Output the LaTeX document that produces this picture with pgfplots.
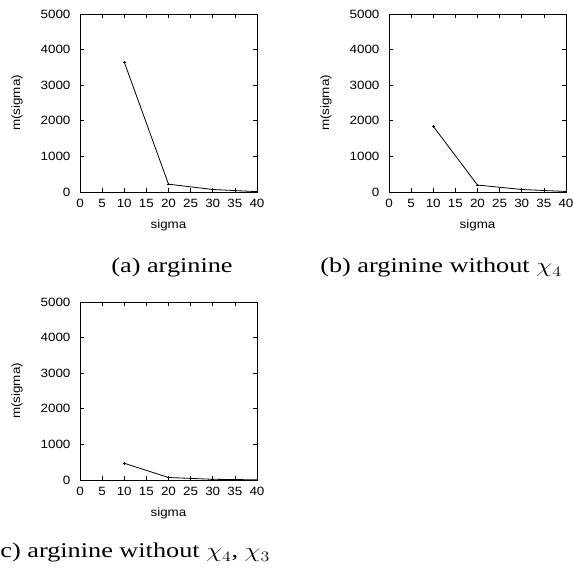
\documentclass[border=0pt]{standalone}
\usepackage{fontspec}
\setmainfont{Liberation Serif}
\setsansfont{Liberation Sans}[FakeStretch=1.12]
\usepackage{graphicx}
\usepackage{pgfplots}
\pgfplotsset{compat=1.18}

% gnuplot-like small panels
\pgfplotsset{
  gp/.style={
    scale only axis, width=177pt, height=178pt,
    xmin=0, xmax=40, ymin=0, ymax=5000,
    xtick={0,5,...,40}, ytick={0,1000,...,5000},
    scaled y ticks=false,
    /pgf/number format/1000 sep={},
    /pgf/number format/assume math mode=true,
    tick label style={font=\sffamily\fontsize{12}{14}\selectfont},
    label style={font=\sffamily\fontsize{12}{14}\selectfont},
    xticklabel style={yshift=-4pt},
    yticklabel style={xshift=-6pt},
    major tick length=4pt,
    tick style={black, line width=0.6pt},
    axis line style={line width=0.8pt},
    xlabel={sigma}, ylabel={m(sigma)},
    xlabel style={at={(axis description cs:0.5,-0.205)}, anchor=base},
    ylabel style={at={(axis description cs:-0.356,0.5)}, anchor=center},
  },
  gpline/.style={black, line width=0.8pt, mark=+, mark size=1.3pt,
    mark options={line width=0.6pt}},
}

\begin{document}
\begin{tikzpicture}
\useasboundingbox (0,0) rectangle (574pt,573pt);

% (a)
\begin{axis}[gp, at={(80pt,381pt)}, anchor=south west]
\addplot[gpline] coordinates {(10,3650)(20,220)(30,70)(40,10)};
\end{axis}

% (b)
\begin{axis}[gp, at={(389pt,381pt)}, anchor=south west]
\addplot[gpline] coordinates {(10,1845)(20,195)(30,70)(40,15)};
\end{axis}

% (c)
\begin{axis}[gp, at={(80pt,93pt)}, anchor=south west]
\addplot[gpline] coordinates {(10,470)(20,70)(30,20)(40,5)};
\end{axis}

\node[anchor=base, inner sep=0pt, font=\fontsize{21}{24}\selectfont]
  at (172pt,300pt) {\scalebox{1.25}[1]{(a) arginine}};
\node[anchor=base, inner sep=0pt, font=\fontsize{21}{24}\selectfont]
  at (441pt,300pt) {\scalebox{1.25}[1]{(b) arginine without $\chi_4$}};
\node[anchor=base west, inner sep=0pt, font=\fontsize{21}{24}\selectfont]
  at (-8.5pt,15pt) {\scalebox{1.25}[1]{(c) arginine without $\chi_4$, $\chi_3$}};
\end{tikzpicture}
\end{document}
